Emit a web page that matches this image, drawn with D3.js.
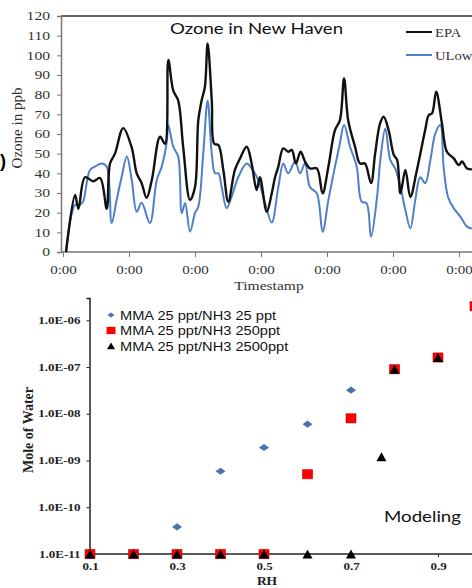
<!DOCTYPE html>
<html><head><meta charset="utf-8">
<script src="https://cdn.jsdelivr.net/npm/d3@7"></script>
<style>body{margin:0;background:#fff}svg{display:block}</style>
</head><body>
<svg id="c" width="472" height="588"></svg>
<script>
// ---------- Top chart: Ozone in New Haven (hours since first 0:00) ----------
const epaHours = [1.1,4.4,5.6,8.0,11.0,13.5,15.9,17.1,18.9,21.9,25.0,26.8,28.6,30.4,32.3,35.3,37.1,38.3,40.1,41.9,43.7,46.2,48.0,49.2,50.4,51.6,52.6,54.1,55.0,56.5,58.3,60.1,62.5,64.4,66.8,68.6,70.4,71.6,74.1,75.9,77.1,78.3,80.1,81.9,83.2,84.7,86.4,88.0,89.8,92.3,94.4,96.5,98.9,100.7,102.2,103.7,106.2,108.0,109.8,112.0,113.5,115.3,116.6,118.4,120.3,121.5,122.7,124.5,126.3,128.7,131.7,133.0,134.2,135.7,137.8,139.6,142.1,143.9,145.1,146.9,148.7];
const epaValues = [0,29,22,38,36,37.6,22,45,50,63,53,40,35,27.5,36.6,58.6,55,97.6,82,77,53.5,26.4,33,67,77,84,106,77,55,54.4,41.7,25.6,41.7,47.6,53.5,45,31.5,38,20.5,29.8,38,43.4,52.7,51,51.9,45,51,46,42.5,42.5,29.8,43.4,62,67,88.3,67,53.5,45,45,35,50,65.4,68.8,62,49.3,46.8,29.8,41.7,28,41.7,62,69.6,70.5,81.5,65.4,51,47.6,44.2,46,42.5,42];
const ulowHours = [1.1,4.4,6.2,7.3,9.8,11.6,14.1,15.9,17.7,19.5,21.3,23.2,25.0,26.8,28.6,31.6,34.1,35.9,37.7,38.3,40.1,41.9,43.2,44.4,46.2,48.0,49.2,51.0,52.6,54.1,55.3,56.5,57.7,59.5,61.3,63.7,66.8,68.6,71.0,73.5,75.9,78.3,80.1,81.9,84.4,86.2,88.0,89.8,92.3,94.4,96.5,98.9,100.7,102.2,104.4,106.8,108.6,110.4,112.0,114.2,115.4,117.2,119.0,120.8,122.7,124.5,126.3,128.1,129.9,131.7,133.6,135.4,137.2,138.4,140.0,142.1,144.5,146.9,148.7];
const ulowValues = [0,24,24,25.6,41.7,43.4,45,43.4,14.7,26.4,38,48.5,36.6,20.5,25,14.7,36.6,43.4,55.4,64.6,53.5,48.5,19.8,24.9,10.3,19.8,23,50,77,50,40,40,33,22.3,28,38,45,42.5,36.6,24.7,15,33,45,40,46,40,45,33,29.8,10.3,26.4,43.4,55.3,64.6,53.5,43.4,25.6,24.7,7.8,28,46.8,62.8,46.8,42.5,33,21.4,12,26.4,38,35,46.8,60.3,64.6,43.4,28,22.2,18,12.9,12];
const ozoneTicks = [0,10,20,30,40,50,60,70,80,90,100,110,120];
const dayTicks = [0,24,48,72,96,120,144];
const dayLabel = "0:00";
const topSeries = ["EPA","ULow"];
const topColors = ["#111111","#4f7fc6"];

// ---------- Bottom chart: Modeling ----------
const legendNames = ["MMA 25 ppt/NH3 25 ppt","MMA 25 ppt/NH3 250ppt","MMA 25 ppt/NH3 2500ppt"];
const rh25 = [0.1,0.2,0.3,0.4,0.5,0.6,0.7,0.8,0.9];
const mole25 = [1e-11,1e-11,3.8e-11,5.9e-10,1.9e-9,6.0e-9,3.2e-8,9e-8,1.6e-7];
const rh250 = [0.1,0.2,0.3,0.4,0.5,0.6,0.7,0.8,0.9,0.985];
const mole250 = [1e-11,1e-11,1e-11,1e-11,1e-11,5.1e-10,8e-9,9e-8,1.6e-7,2e-6];
const rh2500 = [0.1,0.2,0.3,0.4,0.5,0.6,0.7,0.77,0.8,0.9];
const mole2500 = [1e-11,1e-11,1e-11,1e-11,1e-11,1e-11,1e-11,1.2e-9,9e-8,1.6e-7];
const moleTicks = [1e-11,1e-10,1e-9,1e-8,1e-7,1e-6];
const rhTicks = [0.1,0.3,0.5,0.7,0.9];

const svg = d3.select("#c");
const SERIF = "'Liberation Serif','Times New Roman',serif";
const SANS = "'Liberation Sans',Arial,sans-serif";
const CAL = "Lato,'Open Sans',sans-serif";

function stretch(sel, k){
  sel.each(function(){
    const w = this.getComputedTextLength();
    d3.select(this).attr("textLength", w*k).attr("lengthAdjust","spacingAndGlyphs");
  });
}
function fitW(sel, w){ sel.attr("textLength", w).attr("lengthAdjust","spacingAndGlyphs"); }

// ======== TOP ========
const xT = d3.scaleLinear().domain([0, 168]).range([63, 525]);
const yT = d3.scaleLinear().domain([0, 120]).range([252, 16]);

svg.append("line").attr("x1", 61).attr("x2", 472).attr("y1", yT(120)).attr("y2", yT(120))
  .attr("stroke", "#666").attr("stroke-width", 2);

const yAxT = svg.append("g").attr("transform", "translate(61,0)")
  .call(d3.axisLeft(yT).tickValues(ozoneTicks).tickSize(4).tickPadding(7));
yAxT.select(".domain").attr("stroke", "#777").attr("stroke-width", 1.5);
yAxT.selectAll("line").attr("stroke", "#777");
yAxT.selectAll("text").attr("font-family", SERIF).attr("font-size", 12).attr("fill", "#333");
stretch(yAxT.selectAll("text"), 1.3);

const xAxT = svg.append("g").attr("transform", `translate(0,${yT(0)})`)
  .call(d3.axisBottom(xT).tickValues(dayTicks).tickFormat(() => dayLabel).tickSize(5).tickPadding(8).tickSizeOuter(0));
xAxT.select(".domain").attr("stroke", "#777").attr("stroke-width", 1.5).attr("d", `M61,0H472`);
xAxT.selectAll("line").attr("stroke", "#777");
xAxT.selectAll("text").attr("font-family", SERIF).attr("font-size", 12).attr("fill", "#333");
stretch(xAxT.selectAll("text"), 1.25);

const lineGen = d3.line().x(d => xT(d[0])).y(d => yT(d[1])).curve(d3.curveCatmullRom.alpha(0.5));
svg.append("defs").append("clipPath").attr("id","clipT").append("rect")
  .attr("x", 61).attr("y", 0).attr("width", 411).attr("height", 253);
const topData = [d3.zip(epaHours, epaValues), d3.zip(ulowHours, ulowValues)];
[1,0].forEach(i => {
  svg.append("path").attr("clip-path","url(#clipT)").datum(topData[i]).attr("d", lineGen)
    .attr("fill","none").attr("stroke", topColors[i]).attr("stroke-width", i===0 ? 2.4 : 2)
    .attr("stroke-linejoin","round");
});

fitW(svg.append("text").attr("x", 170).attr("y", 33.5).attr("font-family", CAL).attr("font-size", 14.5)
  .attr("fill","#111").text("Ozone in New Haven"), 173);

topSeries.forEach((n,i) => {
  const y = 32 + i*23;
  svg.append("line").attr("x1",406).attr("x2",432).attr("y1",y).attr("y2",y)
    .attr("stroke", topColors[i]).attr("stroke-width", 2);
  const t = svg.append("text").attr("x",435).attr("y",y+4.5).attr("font-family",SERIF)
    .attr("font-size",13).attr("fill","#333").text(n);
  stretch(t, 1.12);
});

stretch(svg.append("text").attr("x",269).attr("y",290).attr("text-anchor","middle")
  .attr("font-family",SERIF).attr("font-size",13.5).attr("fill","#333").text("Timestamp"), 1.15);
svg.append("text").attr("transform","translate(22,128) rotate(-90)").attr("text-anchor","middle")
  .attr("font-family",SERIF).attr("font-size",15).attr("fill","#333").text("Ozone in ppb");

// panel mark at the left edge
svg.append("text").attr("x",0).attr("y",167).attr("font-family",SANS).attr("font-weight","bold")
  .attr("font-size",18).attr("fill","#000").text(")");

// ======== BOTTOM ========
const xB = d3.scaleLinear().domain([0.1, 0.9]).range([90, 438]);
const yB = d3.scaleLog().domain([1e-11, 3e-6]).range([554, 298]);

const yAxB = svg.append("g").attr("transform","translate(89.5,0)")
  .call(d3.axisLeft(yB).tickValues(moleTicks).tickSize(3).tickPadding(6)
    .tickFormat(d => { const e = Math.round(Math.log10(d)); return "1.0E-" + String(-e).padStart(2,"0"); }));
yAxB.select(".domain").attr("stroke","#222").attr("stroke-width",1.5);
yAxB.selectAll("line").attr("stroke","#222");
yAxB.selectAll("text").attr("font-family",SERIF).attr("font-weight","bold").attr("font-size",10).attr("fill","#222");
stretch(yAxB.selectAll("text"), 1.3);

const xAxB = svg.append("g").attr("transform",`translate(0,${yB(1e-11)})`)
  .call(d3.axisBottom(xB).tickValues(rhTicks).tickFormat(d3.format(".1f")).tickSize(3).tickPadding(6).tickSizeOuter(0));
xAxB.select(".domain").attr("stroke","#222").attr("stroke-width",1.5).attr("d","M89.5,0H472");
xAxB.selectAll("line").attr("stroke","#222");
xAxB.selectAll("text").attr("font-family",SERIF).attr("font-weight","bold").attr("font-size",10).attr("fill","#222");
stretch(xAxB.selectAll("text"), 1.3);

svg.append("text").attr("x",267).attr("y",584.5).attr("text-anchor","middle")
  .attr("font-family",SERIF).attr("font-weight","bold").attr("font-size",13.5).attr("fill","#222").text("RH");
svg.append("text").attr("transform","translate(33,430) rotate(-90)").attr("text-anchor","middle")
  .attr("font-family",SERIF).attr("font-weight","bold").attr("font-size",14).attr("fill","#222").text("Mole of Water");

const shapes = [
  {path:"M-5,0L0,-3.6L5,0L0,3.6Z", lpath:"M-3.6,0L0,-2.6L3.6,0L0,2.6Z", fill:"#4a74b0", stroke:"none"},
  {path:"M-5,-4.6H5V4.6H-5Z", lpath:"M-4.5,-3.6H4.5V3.6H-4.5Z", fill:"#ff0000", stroke:"#c00000"},
  {path:"M-5,4.5L0,-4.5L5,4.5Z", lpath:"M-4,3.2L0,-3.4L4,3.2Z", fill:"#000", stroke:"none"}
];
const bottomData = [d3.zip(rh25, mole25), d3.zip(rh250, mole250), d3.zip(rh2500, mole2500)];
svg.append("defs").append("clipPath").attr("id","clipB").append("rect")
  .attr("x",0).attr("y",296).attr("width",472).attr("height",292);
bottomData.forEach((data,i) => {
  svg.append("g").attr("clip-path","url(#clipB)").selectAll("path").data(data).join("path")
    .attr("transform", d => `translate(${xB(d[0])},${yB(d[1])})`)
    .attr("d", shapes[i].path).attr("fill", shapes[i].fill)
    .attr("stroke", shapes[i].stroke).attr("stroke-width", 0.6);
});

legendNames.forEach((n,i) => {
  const y = 319.5 + i*15.5;
  svg.append("path").attr("transform",`translate(111,${y-4.5})`).attr("d", shapes[i].lpath)
    .attr("fill", shapes[i].fill);
  stretch(svg.append("text").attr("x",120).attr("y",y).attr("font-family",SANS).attr("font-size",12.5)
    .attr("fill","#111").text(n), 1.17);
});

fitW(svg.append("text").attr("x",384).attr("y",522).attr("font-family",CAL).attr("font-size",16)
  .attr("fill","#111").text("Modeling"), 77);
</script>
</body></html>
